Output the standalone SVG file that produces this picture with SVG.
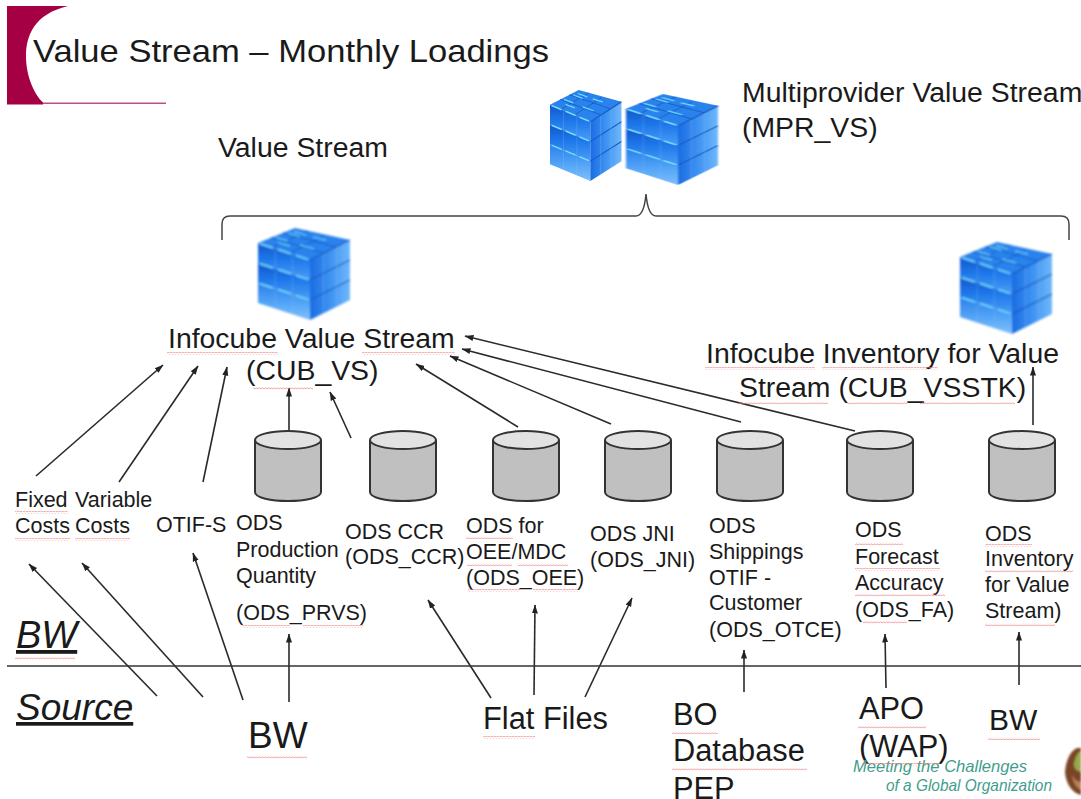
<svg xmlns="http://www.w3.org/2000/svg" width="1081" height="799" viewBox="0 0 1081 799">
<style>
text{font-family:"Liberation Sans",Arial,sans-serif;fill:#1a1a1a}
.t28{font-size:28.4px}.t20{font-size:21.5px}.t30{font-size:30.8px}
.arrow{stroke:#2a2a2a;stroke-width:1.6;fill:none;marker-end:url(#ah)}
.cyl{fill:#c0c0c0;stroke:#333;stroke-width:2}
.top{fill:#e2e2e2;stroke:#333;stroke-width:2}
.teal{fill:#3f9d8c;font-style:italic;font-size:16.500px}
</style>
<defs>
<marker id="ah" viewBox="0 0 9 8" refX="8.500" refY="4" markerWidth="9" markerHeight="8" markerUnits="userSpaceOnUse" orient="auto"><path d="M0 1L9 4L0 7Z" fill="#222"/></marker>
<pattern id="wave" width="3" height="3" patternUnits="userSpaceOnUse"><path d="M0 2.300L1.500 .7L3 2.300" fill="none" stroke="#ee8080" stroke-width=".8"/></pattern>
<filter id="soft" x="-5%" y="-5%" width="110%" height="110%"><feGaussianBlur stdDeviation=".8"/></filter>
<filter id="soft2" x="-20%" y="-20%" width="140%" height="140%"><feGaussianBlur stdDeviation="1.200"/></filter>
<linearGradient id="gl" x1="0" y1="0" x2="0" y2="1"><stop offset="0" stop-color="#1258cc"/><stop offset=".45" stop-color="#1f78ea"/><stop offset="1" stop-color="#4a9ef6"/></linearGradient>
<linearGradient id="gb" x1="0" y1="0" x2="0" y2="1"><stop offset="0" stop-color="#2a80ea"/><stop offset=".6" stop-color="#58a8f8"/><stop offset="1" stop-color="#80bffb"/></linearGradient>
<linearGradient id="gr" x1="0" y1="0" x2="1" y2="0"><stop offset="0" stop-color="#1a6ce2"/><stop offset=".5" stop-color="#3d92f2"/><stop offset="1" stop-color="#70b8fb"/></linearGradient>
<g id="cyan"><path d="M2 0.700L15 5M20 6.500L33 10.800M38 12.500L50 16.400" stroke="#78e0ff" stroke-width="1.500" fill="none"/></g>
<g id="rband"><polygon points="52,32 92,12 92,32 52,52" fill="url(#gr)"/><path d="M52 32L92 12" stroke="#1557c4" stroke-width="1.200"/></g>
<symbol id="cube" viewBox="0 0 94 93" preserveAspectRatio="none" overflow="visible">
<g filter="url(#soft)">
<polygon points="0,15 37,0 92,12 52,32" fill="#2a82ec"/>
<path d="M13 9.500L65 25M25 4.800L78 19M13 20L50 3M30 26L66 8" stroke="#1560c8" stroke-width="1" fill="none"/>
<path d="M18 9.500L30 13M36 3.500L48 7M30 5L42 8.500M42 17L56 21M55 9L68 12M20 14.500L32 18" stroke="#6fdcff" stroke-width="1.200" fill="none"/>
<polygon points="0,15 52,32 52,52 0,35" fill="url(#gl)"/>
<polygon points="0,35 52,52 52,72 0,55" fill="url(#gl)"/>
<polygon points="0,55 52,72 52,92 0,75" fill="url(#gb)"/>
<use href="#rband"/><use href="#rband" y="20"/><use href="#rband" y="40"/>
<use href="#cyan" y="15"/><use href="#cyan" y="35"/><use href="#cyan" y="55"/>
<path d="M17.300 21V80M34.600 27V86" stroke="#8cc8fc" stroke-width=".8" opacity=".35" fill="none"/>
<path d="M65.300 26V85M78.600 19V79" stroke="#9ad0fd" stroke-width=".8" opacity=".35" fill="none"/>
</g>
</symbol>
<g id="cyl"><path class="cyl" d="M0 10V62C0 74 66 74 66 62V10"/><ellipse class="top" cx="33" cy="10" rx="33" ry="9"/></g>
</defs>
<rect width="1081" height="799" fill="#fff"/>
<g id="logo">
<path d="M7 6H68C34 14 26 36 26 56C26 76 34 94 43 102.500V104.500H7Z" fill="#a50044"/>
<rect x="43" y="102.500" width="123" height="1.500" fill="#c04c84"/>
<g filter="url(#soft2)">
<path d="M1065 772C1066 758 1072 750 1077 748L1081 748V795C1073 793 1066 785 1065 772Z" fill="#7a4526"/>
<path d="M1074 764C1075 757 1078 752 1081 751V772C1077 771 1074 769 1074 764Z" fill="#94ac4a"/>
<path d="M1072 775C1075 780 1078 782 1081 782V790C1076 788 1073 782 1072 775Z" fill="#b9805a"/>
</g>
</g>
<g id="title"><text x="33" y="62" font-size="32" textLength="516" lengthAdjust="spacingAndGlyphs">Value Stream – Monthly Loadings</text></g>
<g id="value-stream-label"><text class="t28" x="218" y="157">Value Stream</text></g>
<g id="multiprovider">
<use href="#cube" x="550" y="90" width="73" height="92"/>
<use href="#cube" x="626" y="94" width="94" height="92"/>
<text class="t28" x="742" y="102">Multiprovider Value Stream</text>
<text class="t28" x="742" y="137">(MPR_VS)</text>
</g>
<g id="brace"><path d="M222 240V224Q222 216 230 216H636Q644 216 646 194Q648 216 656 216H1061Q1069 216 1069 224V240" fill="none" stroke="#444" stroke-width="1.500"/></g>
<g id="cub-vs">
<use href="#cube" x="258" y="228" width="94" height="93"/>
<text class="t28" x="168" y="348">Infocube Value Stream</text>
<text class="t28" x="246" y="380">(CUB_VS)</text>
</g>
<g id="cub-vsstk">
<use href="#cube" x="960" y="242" width="94" height="93"/>
<text class="t28" x="706" y="363">Infocube Inventory for Value</text>
<text class="t28" x="739" y="397">Stream (CUB_VSSTK)</text>
</g>
<g id="connectors">
<line x1="36" y1="476" x2="163" y2="365" class="arrow"/>
<line x1="119" y1="482" x2="198" y2="366" class="arrow"/>
<line x1="203" y1="482" x2="227" y2="367" class="arrow"/>
<line x1="289" y1="430" x2="289" y2="388" class="arrow"/>
<line x1="351" y1="438" x2="330" y2="392" class="arrow"/>
<line x1="518" y1="427" x2="416" y2="364" class="arrow"/>
<line x1="611" y1="424" x2="450" y2="356" class="arrow"/>
<line x1="741" y1="422" x2="462" y2="349" class="arrow"/>
<line x1="855" y1="431" x2="465" y2="336" class="arrow"/>
<line x1="1033" y1="425" x2="1033" y2="367" class="arrow"/>
<line x1="157" y1="696" x2="29" y2="564" class="arrow"/>
<line x1="203" y1="697" x2="82" y2="563" class="arrow"/>
<line x1="243" y1="700" x2="193" y2="553" class="arrow"/>
<line x1="289" y1="702" x2="289" y2="634" class="arrow"/>
<line x1="491" y1="698" x2="428" y2="600" class="arrow"/>
<line x1="534" y1="695" x2="535" y2="605" class="arrow"/>
<line x1="585" y1="697" x2="632" y2="598" class="arrow"/>
<line x1="744" y1="692" x2="744" y2="650" class="arrow"/>
<line x1="886" y1="688" x2="885" y2="634" class="arrow"/>
<line x1="1019" y1="685" x2="1019" y2="632" class="arrow"/>
</g>
<g id="fixed-costs"><text class="t20" x="15" y="507">Fixed</text><text class="t20" x="15" y="533">Costs</text></g>
<g id="variable-costs"><text class="t20" x="75" y="507">Variable</text><text class="t20" x="75" y="533">Costs</text></g>
<g id="otif-s"><text class="t20" x="156" y="532">OTIF-S</text></g>
<g id="ods-prvs"><use href="#cyl" x="255" y="430"/><text class="t20" x="236" y="530">ODS</text><text class="t20" x="236" y="557">Production</text><text class="t20" x="236" y="583">Quantity</text><text class="t20" x="236" y="620">(ODS_PRVS)</text></g>
<g id="ods-ccr"><use href="#cyl" x="370" y="430"/><text class="t20" x="345" y="539">ODS CCR</text><text class="t20" x="345" y="564">(ODS_CCR)</text></g>
<g id="ods-oee"><use href="#cyl" x="493" y="430"/><text class="t20" x="466" y="533">ODS for</text><text class="t20" x="466" y="559">OEE/MDC</text><text class="t20" x="466" y="585">(ODS_OEE)</text></g>
<g id="ods-jni"><use href="#cyl" x="605" y="430"/><text class="t20" x="590" y="541">ODS JNI</text><text class="t20" x="590" y="567">(ODS_JNI)</text></g>
<g id="ods-otce"><use href="#cyl" x="717" y="430"/><text class="t20" x="709" y="533">ODS</text><text class="t20" x="709" y="559">Shippings</text><text class="t20" x="709" y="585">OTIF -</text><text class="t20" x="709" y="610">Customer</text><text class="t20" x="709" y="637">(ODS_OTCE)</text></g>
<g id="ods-fa"><use href="#cyl" x="847" y="430"/><text class="t20" x="855" y="537">ODS</text><text class="t20" x="855" y="564">Forecast</text><text class="t20" x="855" y="590">Accuracy</text><text class="t20" x="855" y="617">(ODS_FA)</text></g>
<g id="ods-inv"><use href="#cyl" x="989" y="430"/><text class="t20" x="985" y="541">ODS</text><text class="t20" x="985" y="566">Inventory</text><text class="t20" x="985" y="592">for Value</text><text class="t20" x="985" y="618">Stream)</text></g>
<g id="divider"><line x1="7" y1="666" x2="1081" y2="666" stroke="#333" stroke-width="1.500"/></g>
<g id="bw-zone"><text x="16" y="648" font-size="38" font-style="italic" text-decoration="underline">BW</text></g>
<g id="source-zone"><text x="16" y="720" font-size="37" font-style="italic" text-decoration="underline">Source</text></g>
<g id="src-bw"><text x="248" y="748" font-size="37">BW</text></g>
<g id="src-flat"><text class="t30" x="483" y="729">Flat Files</text></g>
<g id="src-bo"><text class="t30" x="673" y="725">BO</text><text class="t30" x="673" y="761">Database</text><text class="t30" x="673" y="799">PEP</text></g>
<g id="src-apo"><text class="t30" x="859" y="719">APO</text><text class="t30" x="859" y="757">(WAP)</text></g>
<g id="src-bw2"><text x="989" y="730" font-size="30">BW</text></g>
<g id="tagline"><text class="teal" x="853" y="772" textLength="174" lengthAdjust="spacingAndGlyphs">Meeting the Challenges</text><text class="teal" x="886" y="791" textLength="166" lengthAdjust="spacingAndGlyphs">of a Global Organization</text></g>
<g id="squiggles" fill="url(#wave)">
<rect x="167" y="352" width="111" height="3"/><rect x="362" y="352" width="93" height="3"/><rect x="253" y="387" width="60" height="3"/>
<rect x="705" y="367" width="110" height="3"/><rect x="822" y="367" width="116" height="3"/><rect x="738" y="402" width="90" height="3"/><rect x="847" y="402" width="60" height="3"/><rect x="920" y="402" width="95" height="3"/>
<rect x="15" y="511" width="53" height="3"/><rect x="15" y="538" width="55" height="3"/><rect x="75" y="538" width="55" height="3"/>
<rect x="242" y="625" width="48" height="3"/><rect x="303" y="625" width="60" height="3"/>
<rect x="466" y="536" width="47" height="3"/><rect x="467" y="563" width="45" height="3"/><rect x="518" y="563" width="50" height="3"/><rect x="468" y="589" width="52" height="3"/><rect x="533" y="589" width="45" height="3"/>
<rect x="855" y="542" width="48" height="3"/><rect x="855" y="568" width="85" height="3"/><rect x="855" y="594" width="90" height="3"/><rect x="863" y="621" width="44" height="3"/>
<rect x="985" y="544" width="47" height="3"/><rect x="985" y="570" width="88" height="3"/><rect x="985" y="623" width="70" height="3"/>
<rect x="15" y="657" width="60" height="3"/><rect x="247" y="756" width="60" height="3"/><rect x="483" y="736" width="52" height="3"/><rect x="672" y="731" width="46" height="3"/><rect x="672" y="768" width="135" height="3"/><rect x="858" y="726" width="68" height="3"/><rect x="862" y="763" width="78" height="3"/><rect x="988" y="737" width="52" height="3"/>
</g>
</svg>
